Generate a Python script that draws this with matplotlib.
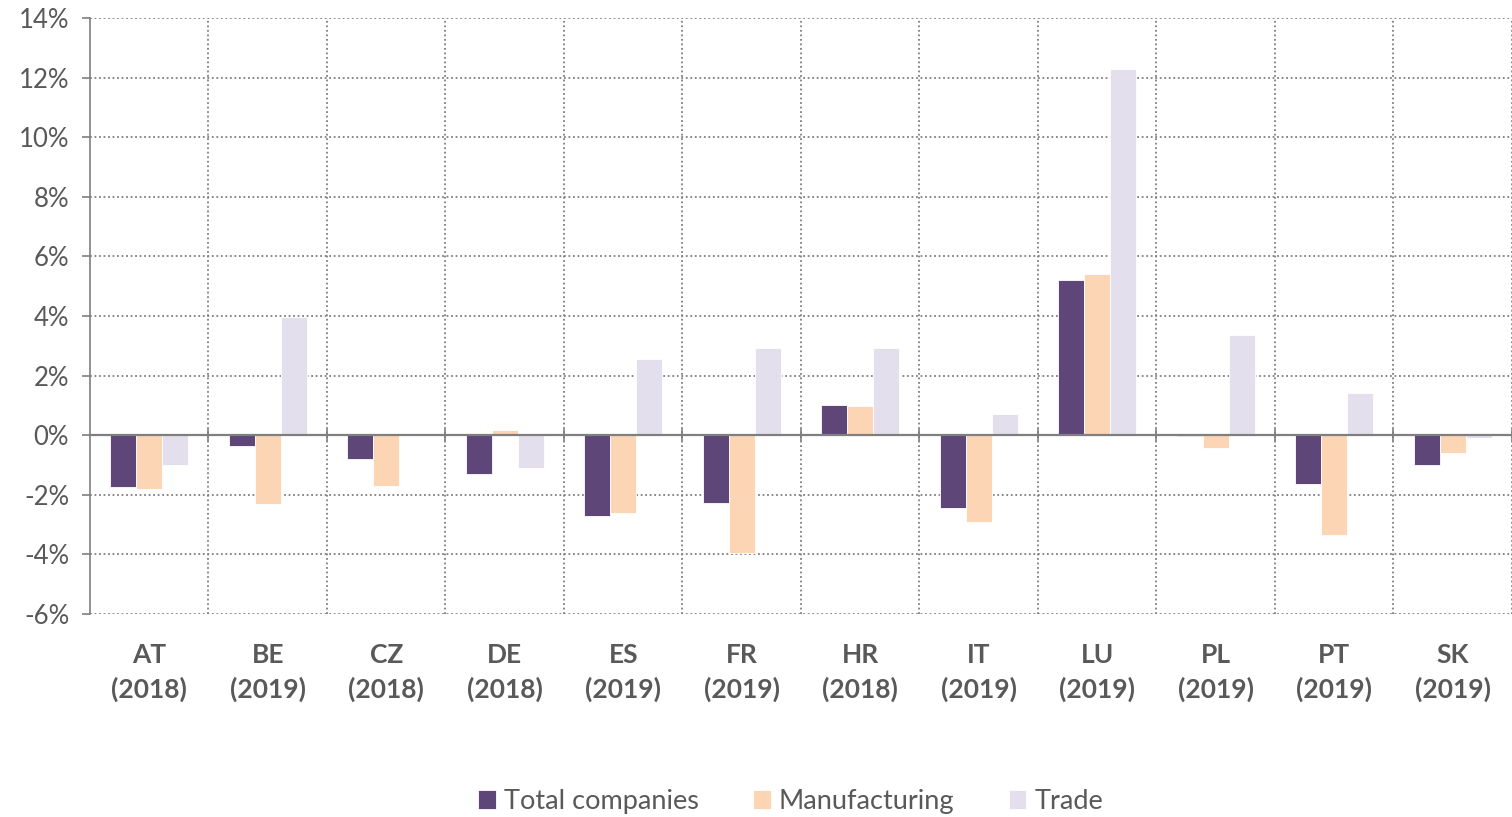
import numpy as np
import matplotlib.pyplot as plt
from matplotlib.ticker import FuncFormatter

plt.rcParams['font.family'] = ['Lato', 'DejaVu Sans']

# 数据
countries = ['AT\n(2018)', 'BE\n(2019)', 'CZ\n(2018)', 'DE\n(2018)', 'ES\n(2019)', 'FR\n(2019)',
             'HR\n(2018)', 'IT\n(2019)', 'LU\n(2019)', 'PL\n(2019)', 'PT\n(2019)', 'SK\n(2019)']
total = [-1.73, -0.35, -0.79, -1.31, -2.71, -2.27, 1.02, -2.45, 5.22, -0.03, -1.63, -0.99]
manufacturing = [-1.79, -2.30, -1.70, 0.17, -2.60, -3.94, 0.97, -2.93, 5.41, -0.43, -3.35, -0.59]
trade = [-1.00, 3.96, 0.0, -1.10, 2.57, 2.94, 2.94, 0.70, 12.28, 3.35, 1.43, -0.11]

series = [('Total companies', total, '#5e4778'),
          ('Manufacturing', manufacturing, '#fcd5b5'),
          ('Trade', trade, '#e4dfec')]

grey = '#7f7f7f'
text_col = '#595959'

fig = plt.figure(figsize=(15.12, 8.17), dpi=100)
ax = fig.add_axes([0.0595, 0.2485, 0.9405, 0.7295])

x = np.arange(len(countries))
w = 0.22
for i, (name, vals, col) in enumerate(series):
    ax.bar(x + (i - 1) * w, vals, width=w, color=col, edgecolor='white', linewidth=0.6, label=name, zorder=3)

ax.set_xlim(-0.5, len(countries) - 0.5)
ax.set_ylim(-6, 14)
ax.set_yticks(np.arange(-6, 15, 2))
ax.yaxis.set_major_formatter(FuncFormatter(lambda v, p: f'{v:.0f}%'))
ax.tick_params(axis='y', labelsize=18.5, colors=grey, labelcolor=text_col, length=6, width=1.2, direction='out', pad=9)

# 零线 + 分类边界刻度
ax.spines['bottom'].set_position(('data', 0))
ax.spines['bottom'].set_color(grey)
ax.spines['bottom'].set_linewidth(1.6)
ax.spines['bottom'].set_zorder(4)
ax.spines['left'].set_color(grey)
ax.spines['left'].set_linewidth(1.2)
ax.spines['top'].set_visible(False)
ax.spines['right'].set_visible(False)
ax.set_xticks(x)
ax.set_xticklabels([])
ax.tick_params(axis='x', which='major', length=0)
ax.set_xticks(np.arange(0.5, len(countries) - 0.5 + 0.01, 1), minor=True)
ax.tick_params(axis='x', which='minor', length=8, width=1.2, direction='inout', colors=grey)

# 网格
ax.grid(axis='y', which='major', color=grey, linestyle=(0, (1, 1.5)), linewidth=1.3, zorder=0)
ax.grid(axis='x', which='minor', color=grey, linestyle=(0, (1, 1.5)), linewidth=1.3, zorder=0)
ax.set_axisbelow(True)

# 分类标签
sec = ax.secondary_xaxis('bottom')
sec.set_xticks(x)
sec.set_xticklabels(countries, fontsize=19, fontweight='bold', color=text_col, linespacing=1.45)
sec.tick_params(length=0, pad=21)
sec.spines['bottom'].set_visible(False)

# 图例
fig.legend(loc='center', bbox_to_anchor=(0.523, 0.019), ncol=3, frameon=False, fontsize=19.5,
           handlelength=0.65, handleheight=0.65, handletextpad=0.3, columnspacing=2.0, labelcolor=text_col)

plt.savefig('out.png', dpi=100)
